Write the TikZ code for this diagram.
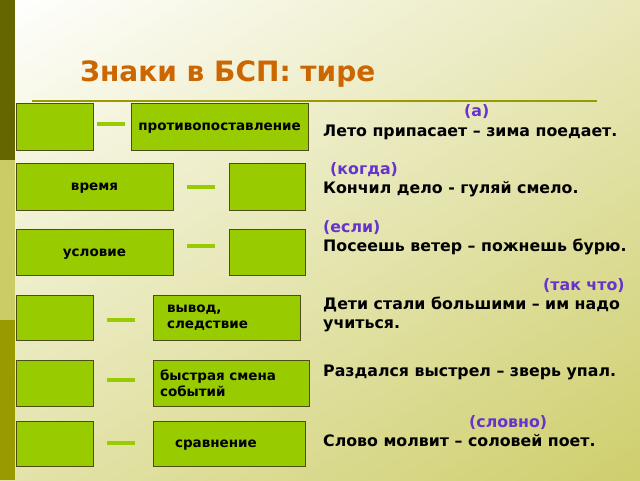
\documentclass[tikz,border=0pt]{standalone}
\usepackage{fontspec}
\setmainfont{DejaVu Sans}
\usetikzlibrary{positioning,shadings}
\definecolor{boxgreen}{HTML}{99CC00}
\definecolor{boxline}{HTML}{4D4D1A}
\definecolor{titleorange}{HTML}{CC6600}
\definecolor{hintpurple}{HTML}{6633CC}
\definecolor{stripdark}{HTML}{666600}
\definecolor{stripkhaki}{HTML}{CCCC66}
\definecolor{stripolive}{HTML}{999900}
\begin{document}
\begin{tikzpicture}[x=1pt,y=-1pt,
    slot/.style={draw=boxline,fill=boxgreen,line width=1pt,inner sep=0pt,
      font=\bfseries\fontsize{13.5}{16}\selectfont},
    one line/.style={text height=8.6pt,text depth=0pt},
    dash line/.style={draw=boxgreen,line width=3.5pt},
    line text/.style={anchor=base west,inner sep=0pt,font=\bfseries\fontsize{15.8}{18}\selectfont},
    hint/.style={line text,text=hintpurple}]

    % background
    \useasboundingbox (0,0) rectangle (640,480);
    \shade[upper left=white,upper right=stripkhaki!45,lower left=stripkhaki!55,lower right=stripkhaki!95]
        (0,0) rectangle (640,480);
    \fill[stripdark] (0,0) rectangle (15,160);
    \fill[stripkhaki] (0,160) rectangle (15,320);
    \fill[stripolive] (0,320) rectangle (15,480);

    \node[anchor=base west,text=titleorange,inner sep=0pt,font=\bfseries\fontsize{28}{32}\selectfont]
        (title) at (80,81) {Знаки в БСП: тире};
    \draw[stripolive,line width=1.5pt] (32,101) -- (597,101);

    % left column
    \node[slot,minimum width=77pt,minimum height=47pt] (a1) at (54.5,126.5) {};
    \node[slot,one line,minimum width=177pt,minimum height=47pt] (b1) at (219.5,126.5) {противопоставление};
    \node[slot,one line,minimum width=157pt,minimum height=47pt] (a2) at (94.5,186.5) {время};
    \node[slot,minimum width=76pt,minimum height=47pt] (b2) at (267,186.5) {};
    \node[slot,one line,minimum width=157pt,minimum height=46pt] (a3) at (94.5,252) {условие};
    \node[slot,minimum width=76pt,minimum height=46pt] (b3) at (267,252) {};
    \node[slot,minimum width=77pt,minimum height=45pt] (a4) at (54.5,317.5) {};
    \node[slot,minimum width=147pt,minimum height=45pt,align=left,text width=119pt] (b4) at (226.5,317.5)
        {вывод,\\следствие};
    \node[slot,minimum width=77pt,minimum height=46pt] (a5) at (54.5,383) {};
    \node[slot,minimum width=156pt,minimum height=46pt,align=left,text width=142pt] (b5) at (231,383)
        {быстрая смена\\событий};
    \node[slot,minimum width=77pt,minimum height=45pt] (a6) at (54.5,443.5) {};
    \node[slot,one line,minimum width=152pt,minimum height=45pt,align=left,text width=108pt] (b6) at (229,443.5)
        {сравнение};

    % dashes
    \draw[dash line] (97,124) -- (125,124);
    \draw[dash line] (187,187) -- (215,187);
    \draw[dash line] (187,246) -- (215,246);
    \draw[dash line] (107,320) -- (135,320);
    \draw[dash line] (107,380) -- (135,380);
    \draw[dash line] (107,443) -- (135,443);

    % examples
    \node[hint] (h1) at (464,116) {(а)};
    \node[line text] (e1) at (323,136) {Лето припасает – зима поедает.};
    \node[hint] (h2) at (330,174) {(когда)};
    \node[line text] (e2) at (323,193) {Кончил дело - гуляй смело.};
    \node[hint] (h3) at (323,232) {(если)};
    \node[line text] (e3) at (323,251) {Посеешь ветер – пожнешь бурю.};
    \node[hint] (h4) at (543,290) {(так что)};
    \node[line text] (e4) at (323,309) {Дети стали большими – им надо};
    \node[line text] (e4b) at (323,328) {учиться.};
    \node[line text] (e5) at (323,376) {Раздался выстрел – зверь упал.};
    \node[hint] (h6) at (469,427) {(словно)};
    \node[line text] (e6) at (323,446) {Слово молвит – соловей поет.};
\end{tikzpicture}
\end{document}
